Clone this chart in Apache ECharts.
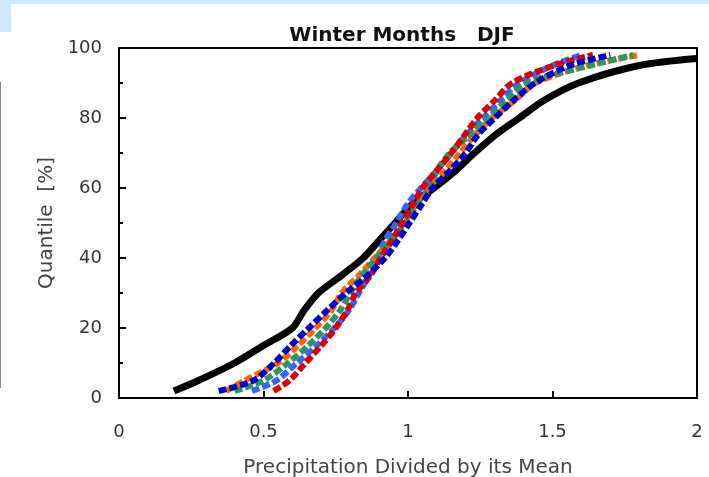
<!DOCTYPE html>
<html><head><meta charset="utf-8">
<script src="https://cdn.jsdelivr.net/npm/echarts@6/dist/echarts.min.js"></script>
<style>html,body{margin:0;padding:0;background:#fff;overflow:hidden}#c{width:709px;height:477px;position:relative}
#band{position:absolute;left:0;top:0;width:709px;height:4px;background:#cde9fb}
#blk{position:absolute;left:0;top:0;width:11px;height:32px;background:#cde9fb}
#vl{position:absolute;left:0;top:82px;width:1px;height:306px;background:#888}
</style></head>
<body><div id="c"></div><div id="band"></div><div id="blk"></div><div id="vl"></div>
<script>
const quantiles = [2,5,10,15,20,25,30,35,40,45,50,55,60,65,70,75,80,85,90,95,98];
const blackX = [0.19,0.275,0.40,0.50,0.60,0.64,0.69,0.77,0.845,0.90,0.955,1.01,1.09,1.165,1.23,1.30,1.385,1.47,1.59,1.80,2.0];
const blackQ = [2,5,10,15,20,25,30,35,40,45,50,55,60,65,70,75,80,85,90,95,97];
const lightBlueX = [0.46,0.545,0.615,0.685,0.745,0.795,0.83,0.865,0.895,0.92,0.96,0.995,1.045,1.10,1.15,1.20,1.26,1.32,1.385,1.50,1.60];
const orangeX = [0.37,0.435,0.55,0.62,0.68,0.735,0.77,0.83,0.885,0.94,0.985,1.025,1.07,1.13,1.18,1.23,1.29,1.37,1.44,1.62,1.80];
const greenX = [0.40,0.50,0.585,0.655,0.715,0.765,0.80,0.84,0.89,0.94,0.99,1.03,1.075,1.10,1.145,1.21,1.28,1.34,1.41,1.63,1.78];
const redX = [0.535,0.59,0.645,0.70,0.75,0.79,0.82,0.87,0.905,0.945,0.98,1.015,1.05,1.10,1.15,1.195,1.24,1.30,1.36,1.505,1.64];
const blueX = [0.345,0.465,0.537,0.595,0.657,0.72,0.785,0.86,0.92,0.965,1.005,1.045,1.085,1.145,1.20,1.24,1.30,1.365,1.44,1.56,1.70];
const xTicks = ['0','0.5','1','1.5','2'];
const yTicks = ['0','20','40','60','80','100'];
const titleText = 'Winter Months   DJF';
const xTitle = 'Precipitation Divided by its Mean';
const yTitle = 'Quantile  [%]';

function pairs(xs, qs){ return xs.map((x,i)=>[x, qs[i]]); }
const font = 'DejaVu Sans';
function colored(name, xs, color){
  return {name, type:'line', data:pairs(xs, quantiles), smooth:0.3, showSymbol:false,
    lineStyle:{color, width:6, type:[8,3], cap:'butt'}, z:3};
}
const chart = echarts.init(document.getElementById('c'), null, {renderer:'canvas'});
chart.setOption({
  animation:false,
  title:{text:titleText, left:397, top:21, textAlign:'center',
    textStyle:{fontFamily:font, fontSize:20, fontWeight:'bold', color:'#111'}},
  grid:{left:119, top:48, width:578, height:350, show:true, borderColor:'#000', borderWidth:2,
    backgroundColor:'#fff', containLabel:false, outerBoundsMode:'none'},
  xAxis:{type:'value', min:0, max:2, interval:0.5,
    name:xTitle, nameLocation:'middle', nameGap:60,
    nameTextStyle:{fontFamily:font, fontSize:20, color:'#444'},
    axisLine:{show:true, lineStyle:{color:'#000', width:2}},
    axisTick:{show:true, inside:true, length:7, lineStyle:{color:'#000', width:2}},
    axisLabel:{fontFamily:font, fontSize:18, color:'#333', margin:25,
      formatter:(v)=>xTicks[Math.round(v/0.5)]},
    splitLine:{show:false}},
  yAxis:{type:'value', min:0, max:100, interval:20,
    name:yTitle, nameLocation:'middle', nameGap:62, nameRotate:90,
    nameTextStyle:{fontFamily:font, fontSize:20, color:'#444'},
    axisLine:{show:true, lineStyle:{color:'#000', width:2}},
    axisTick:{show:true, inside:true, length:7, lineStyle:{color:'#000', width:2}},
    minorTick:{show:true, splitNumber:2, length:4, lineStyle:{color:'#000', width:2}},
    axisLabel:{fontFamily:font, fontSize:18, color:'#333', margin:17,
      formatter:(v)=>yTicks[Math.round(v/20)]},
    splitLine:{show:false}},
  series:[
    {name:'obs', type:'line', data:pairs(blackX, blackQ), smooth:0.3, showSymbol:false,
      lineStyle:{color:'#000', width:7}, z:2},
    colored('c1', lightBlueX, '#3366ff'),
    colored('c2', orangeX, '#ff6600'),
    colored('c3', greenX, '#2e9460'),
    colored('c4', redX, '#dd0000'),
    colored('c5', blueX, '#0000cc')
  ]
});
</script></body></html>
